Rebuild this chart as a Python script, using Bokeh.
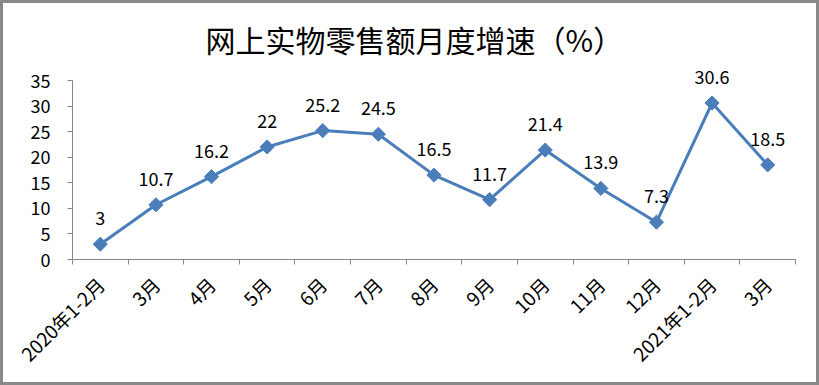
from bokeh.plotting import figure
from bokeh.layouts import column
from bokeh.models import FixedTicker, Range1d, ColumnDataSource, LabelSet, Title
from bokeh.core.properties import value
from bokeh.embed import file_html
from bokeh.resources import INLINE
import math

categories = ["2020年1-2月", "3月", "4月", "5月", "6月", "7月", "8月", "9月", "10月", "11月", "12月", "2021年1-2月", "3月"]
values = [3, 10.7, 16.2, 22, 25.2, 24.5, 16.5, 11.7, 21.4, 13.9, 7.3, 30.6, 18.5]
y_ticks = [0, 5, 10, 15, 20, 25, 30, 35]
title_text = "网上实物零售额月度增速（%）"

n = len(categories)
xs = [i + 0.5 for i in range(n)]
src = ColumnDataSource(dict(x=xs, y=values, lab=[f"{v:g}" for v in values]))

FONT = "Noto Sans CJK SC"
AX = "#868686"
BLUE = "#4A7EBB"

p = figure(width=813, height=379, output_backend="svg", toolbar_location=None,
           x_range=Range1d(0, n), y_range=Range1d(0, 35 * 199 / 179),
           min_border_left=69, min_border_right=21, min_border_top=57, min_border_bottom=123)
p.outline_line_color = None
p.xgrid.visible = False
p.ygrid.visible = False

p.title = Title(text=title_text, align="left", text_font=FONT, text_font_size="30px",
                text_font_style="normal", text_color="#000000", standoff=0, offset=133)

p.line("x", "y", source=src, line_color=BLUE, line_width=3)
p.scatter("x", "y", source=src, marker="square", angle=math.pi / 4, size=10,
          fill_color=BLUE, line_color=BLUE)
p.add_layout(LabelSet(x="x", y="y", text="lab", source=src, text_align="center",
                      text_baseline="bottom", y_offset=19, text_font=value(FONT),
                      text_font_size=value("18px"), text_color=value("#000000")))

# x axis
p.xaxis.ticker = FixedTicker(ticks=xs, minor_ticks=list(range(n + 1)))
p.xaxis.major_label_overrides = {x: c for x, c in zip(xs, categories)}
p.xaxis.major_tick_out = 0
p.xaxis.major_tick_in = 0
p.xaxis.minor_tick_out = 5
p.xaxis.minor_tick_in = 0
p.xaxis.minor_tick_line_color = AX
p.xaxis.axis_line_color = AX
p.xaxis.major_label_orientation = math.pi / 4
p.xaxis.major_label_text_font = FONT
p.xaxis.major_label_text_font_size = "19px"
p.xaxis.major_label_text_color = "#000000"
p.xaxis.major_label_standoff = 16

# y axis
p.yaxis.ticker = FixedTicker(ticks=y_ticks)
p.yaxis.bounds = (0, 35)
p.yaxis.major_tick_out = 5
p.yaxis.major_tick_in = 0
p.yaxis.minor_tick_line_color = None
p.yaxis.major_tick_line_color = AX
p.yaxis.axis_line_color = AX
p.yaxis.major_label_text_font = FONT
p.yaxis.major_label_text_font_size = "18px"
p.yaxis.major_label_text_color = "#000000"
p.yaxis.major_label_standoff = 17

layout = column(p, styles={"border": "3px solid #888888"})

open("out.html", "w").write(file_html(layout, INLINE))
